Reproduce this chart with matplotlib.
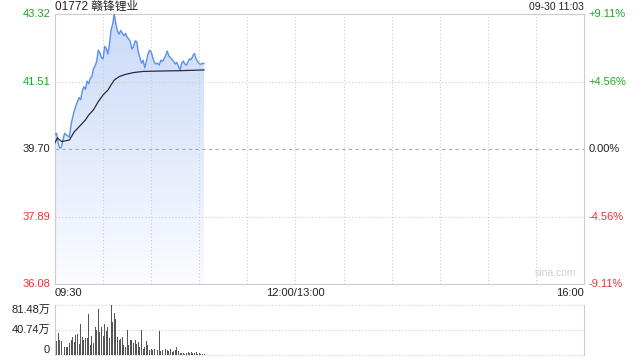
import numpy as np
import matplotlib
matplotlib.use('Agg')
from matplotlib import pyplot as plt
from matplotlib.patches import Polygon
from matplotlib.colors import LinearSegmentedColormap

plt.rcParams['font.family'] = ['Liberation Sans', 'Noto Sans CJK SC', 'DejaVu Sans']

# 数据 (分钟, 从 09:30 起)
prev_close = 39.70
price = [40.08, 40.12, 39.85, 39.72, 39.75, 39.95, 40.12, 40.08, 40.05, 40.02,
         40.35, 40.55, 40.72, 40.85, 40.97, 41.08, 41.02, 41.25, 41.37, 41.30,
         41.52, 41.45, 41.60, 41.64, 41.85, 41.93, 42.05, 42.35, 42.28, 42.15,
         42.12, 42.45, 42.40, 42.25, 42.53, 42.90, 43.05, 43.32, 43.05, 42.86,
         42.78, 42.88, 42.80, 42.74, 42.80, 42.70, 42.65, 42.58, 42.38, 42.45,
         42.60, 42.58, 42.30, 42.15, 42.00, 42.08, 41.88, 42.05, 42.25, 42.35,
         42.30, 42.15, 42.02, 41.98, 42.00, 41.95, 42.08, 42.05, 42.12, 42.20,
         42.33, 42.20, 42.15, 42.10, 42.05, 41.98, 42.02, 41.92, 41.82, 42.00,
         42.06, 41.98, 41.95, 42.05, 42.12, 42.10, 42.20, 42.26, 42.12, 42.05,
         41.99, 41.97, 42.00, 41.99]
avg_min = [0, 1.5, 4, 9, 12, 16, 19, 21, 24, 27, 30, 33, 35, 37, 40, 44, 49, 55, 65, 78, 93]
avg_price = [39.87, 40.00, 39.90, 39.94, 40.16, 40.34, 40.48, 40.61, 40.75, 40.97,
             41.15, 41.28, 41.42, 41.55, 41.64, 41.70, 41.75, 41.78, 41.79, 41.80, 41.82]
# 成交量 (万)
volume = [30.6, 22.4, 36.6, 24, 22, 20, 13, 13, 13, 20,
          24, 29.5, 21, 32, 35, 18.6, 50, 29.5, 25, 28.4,
          28.4, 66.7, 17, 30.6, 20, 46, 41.5, 74.9, 37.7, 46,
          30.6, 50.3, 39.4, 46, 27, 81.48, 54, 68.9, 58, 29.5,
          24, 26.8, 29.5, 17, 13, 40.5, 15.9, 25, 24, 19.7,
          24, 18.6, 21, 13, 40.5, 10.4, 13, 22.4, 17, 8.7,
          10.4, 8.7, 10.4, 7.7, 8.7, 38.8, 6.6, 8.7, 18.6, 10.4,
          8.7, 6.6, 10.4, 5.5, 6.6, 7.7, 13, 6.6, 3.3, 3.3,
          3.8, 2.2, 3.8, 4.9, 3.3, 4.9, 3.8, 3.8, 4.9, 2.2,
          3.8, 2.2, 1.1, 1.6]
price_ticks = [43.32, 41.51, 39.70, 37.89, 36.08]
pct_ticks = ['+9.11%', '+4.56%', '0.00%', '-4.56%', '-9.11%']
tick_colors = ['#1ba81b', '#1ba81b', '#222222', '#f03030', '#f03030']
vol_ticks = [0, 40.74, 81.48]
vol_labels = ['0', '40.74万', '81.48万']

minutes = np.arange(len(price))
grey = '#cccccc'

fig = plt.figure(figsize=(6.4, 3.6), dpi=100)
ax = fig.add_axes([55 / 640, 1 - 284 / 360, 529 / 640, 270 / 360])
ax.set_xlim(0, 330)
ax.set_ylim(36.08, 43.32)

# 网格 (画在填充之上)
for m in range(30, 330, 30):
    ax.axvline(m, color=grey, lw=0.8, ls=(0, (1, 2)), zorder=2)
for p in price_ticks[1:-1]:
    if p == prev_close:
        ax.axhline(p, color='#aaaaaa', lw=0.8, ls=(0, (3, 3)), zorder=2)
    else:
        ax.axhline(p, color=grey, lw=0.8, ls=(0, (1, 2)), zorder=2)

# 渐变填充
cmap = LinearSegmentedColormap.from_list('fill', ['#fbfcff', '#c9daf8'])
grad = np.linspace(0, 1, 256).reshape(-1, 1)
im = ax.imshow(grad, cmap=cmap, aspect='auto', origin='lower',
               extent=[0, minutes[-1], 36.08, 43.32], zorder=1)
verts = [(0, 36.08)] + list(zip(minutes, price)) + [(minutes[-1], 36.08)]
poly = Polygon(verts, closed=True, fc='none', ec='none')
ax.add_patch(poly)
im.set_clip_path(poly)

ax.plot(minutes, price, color='#5b8ff0', lw=1.0, zorder=3)
ax.plot(avg_min, avg_price, color='#2b2b3b', lw=0.9, zorder=3)

for s in ax.spines.values():
    s.set_color(grey)
ax.set_xticks([])
ax.set_yticks([])

for p, pl, c in zip(price_ticks, pct_ticks, tick_colors):
    ax.text(-3, p, '%.2f' % p, color=c, ha='right', va='center', fontsize=8)
    ax.text(333, p, pl, color=c, ha='left', va='center', fontsize=8)

fig.text(55 / 640, 1 - 7 / 360, '01772 赣锋锂业', ha='left', va='center', fontsize=8.5, color='#222222')
fig.text(584 / 640, 1 - 7 / 360, '09-30 11:03', ha='right', va='center', fontsize=7.5, color='#222222')
ax.text(312, 36.25, 'sina.com', ha='center', va='bottom', fontsize=7.5, color='#d0d0d0')

for m, lab, ha in [(0, '09:30', 'left'), (150, '12:00/13:00', 'center'), (330, '16:00', 'right')]:
    ax.text(m, 36.08 - 0.12, lab, ha=ha, va='top', fontsize=8, color='#222222')

# 成交量
vax = fig.add_axes([55 / 640, 1 - 355 / 360, 529 / 640, 50 / 360])
vax.set_xlim(0, 330)
vax.set_ylim(0, 81.48)
vax.bar(minutes, volume, width=0.6, color='#555555', zorder=2)
for v in vol_ticks:
    vax.axhline(v, color=grey, lw=0.8, ls=(0, (1, 2)), zorder=0, clip_on=False)
vax.spines['top'].set_visible(False)
vax.spines['bottom'].set_visible(False)
vax.spines['left'].set_color(grey)
vax.spines['right'].set_color(grey)
vax.set_xticks([])
vax.set_yticks([])
for v, lab, va in zip(vol_ticks, vol_labels, ['bottom', 'center', 'top']):
    vax.text(-3, v, lab, ha='right', va=va, fontsize=8, color='#222222')

fig.savefig('out.png', dpi=100)
